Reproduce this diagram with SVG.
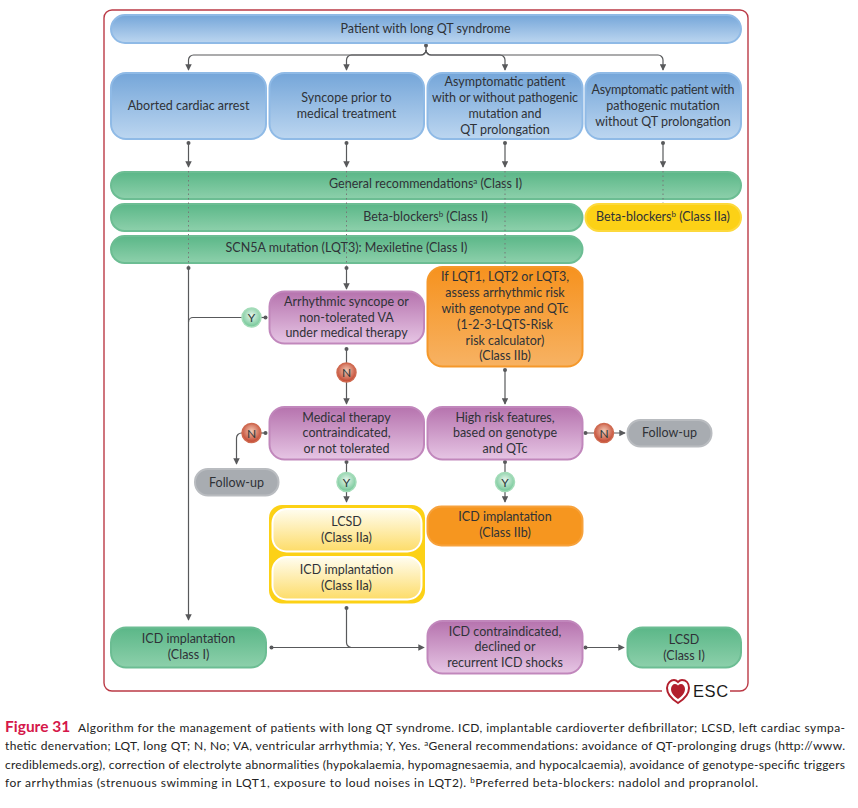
<svg xmlns="http://www.w3.org/2000/svg" width="858" height="808" viewBox="0 0 858 808">
<style>
text{font-family:"Lato","Liberation Sans",sans-serif;font-size:12.5px;fill:#2f3237;text-anchor:middle}
.cap{font-size:12px;text-anchor:start;fill:#222}
.fig{font-size:15.500px;font-weight:700;fill:#d5174a;text-anchor:start}
.sup{font-size:8px}
.blue{fill:url(#gb);stroke:#8fbae6;stroke-width:2}
.green{fill:url(#gg);stroke:#6cbd93;stroke-width:2}
.purple{fill:url(#gp);stroke:#c187bc;stroke-width:2}
.orange{fill:url(#go);stroke:#f5982a;stroke-width:2}
.orange2{fill:#f6961f;stroke:#f7a23c;stroke-width:2}
.yellow{fill:#fcd116}
.inner{fill:url(#gy);stroke:#fff;stroke-width:2}
.gray{fill:#a8acb1;stroke:#b9bcc0;stroke-width:2}
.y{fill:url(#cy);stroke:#a3dcb8;stroke-width:1.5}
.n{fill:url(#cn);stroke:#cf6a50;stroke-width:1.5}
.ln{fill:none;stroke:#58595b;stroke-width:1.2}
.dot{fill:none;stroke:#777;stroke-width:1;stroke-dasharray:1.500 3}
.d{fill:#58595b}
.bd{font-size:12px;fill:#2a3a3a}
</style>
<defs>
<linearGradient id="gb" x1="0" y1="0" x2="0" y2="1"><stop offset="0" stop-color="#75a6d9"/><stop offset="1" stop-color="#bcd6f0"/></linearGradient>
<linearGradient id="gg" x1="0" y1="0" x2="0" y2="1"><stop offset="0" stop-color="#5bb788"/><stop offset="1" stop-color="#8dd0ab"/></linearGradient>
<linearGradient id="gp" x1="0" y1="0" x2="0" y2="1"><stop offset="0" stop-color="#b673ae"/><stop offset="1" stop-color="#e6c5e4"/></linearGradient>
<linearGradient id="go" x1="0" y1="0" x2="0" y2="1"><stop offset="0" stop-color="#f6921e"/><stop offset="1" stop-color="#f7b263"/></linearGradient>
<linearGradient id="gy" x1="0" y1="0" x2="0" y2="1"><stop offset="0" stop-color="#fffdf0"/><stop offset="1" stop-color="#fddc68"/></linearGradient>
<radialGradient id="cy" cx=".5" cy=".4" r=".6"><stop offset="0" stop-color="#e8f6ec"/><stop offset="1" stop-color="#6ec594"/></radialGradient>
<radialGradient id="cn" cx=".5" cy=".4" r=".6"><stop offset="0" stop-color="#f3c9b4"/><stop offset="1" stop-color="#c0412b"/></radialGradient>
<marker id="a" viewBox="0 0 8 8" refX="7" refY="4" markerWidth="6.500" markerHeight="6.500" markerUnits="userSpaceOnUse" orient="auto"><path d="M0 0L8 4L0 8Z" fill="#58595b"/></marker>
</defs>

<path id="frame" d="M662 691H112a8 8 0 0 1-8-8V18a8 8 0 0 1 8-8H740a8 8 0 0 1 8 8V683a8 8 0 0 1-8 8h-10" fill="none" stroke="#bb3a46" stroke-width="1.400"/>

<g id="connectors">
<path class="ln" marker-end="url(#a)" d="M426 45V50a5 5 0 0 1-5 5H193.500a5 5 0 0 0-5 5V70"/>
<path class="ln" marker-end="url(#a)" d="M426 50a5 5 0 0 1-5 5H351.500a5 5 0 0 0-5 5V70"/>
<path class="ln" marker-end="url(#a)" d="M426 50a5 5 0 0 0 5 5H500a5 5 0 0 1 5 5V70"/>
<path class="ln" marker-end="url(#a)" d="M426 50a5 5 0 0 0 5 5H658a5 5 0 0 1 5 5V70"/>
<path class="ln" marker-end="url(#a)" d="M188.500 143V167"/>
<path class="ln" marker-end="url(#a)" d="M346.500 143V167"/>
<path class="ln" marker-end="url(#a)" d="M505 143V167"/>
<path class="ln" marker-end="url(#a)" d="M663 143V167"/>
<path class="ln" marker-end="url(#a)" d="M188.500 268V620"/>
<path class="ln" d="M188.500 322a4.500 4.500 0 0 1 4.500-4.500H242"/>
<path class="ln" d="M265.500 317.500H261"/>
<path class="ln" marker-end="url(#a)" d="M346.500 268V289"/>
<path class="ln" marker-end="url(#a)" d="M346.500 349V404"/>
<path class="ln" d="M265.500 433H261"/>
<path class="ln" marker-end="url(#a)" d="M243 433H241.500a5 5 0 0 0-5 5V464"/>
<path class="ln" marker-end="url(#a)" d="M346.500 462V502"/>
<path class="ln" marker-end="url(#a)" d="M505 370V404"/>
<path class="ln" marker-end="url(#a)" d="M505 462V502"/>
<path class="ln" marker-end="url(#a)" d="M585 433H625"/>
<path class="ln" marker-end="url(#a)" d="M271.500 647.500H424"/>
<path class="ln" d="M346.500 608V642.500a5 5 0 0 0 5 5H370"/>
<path class="ln" marker-end="url(#a)" d="M585 647.500H624"/>
<g class="d">
<circle cx="426" cy="45.500" r="2"/><circle cx="188.500" cy="143" r="2"/><circle cx="346.500" cy="143" r="2"/><circle cx="505" cy="143" r="2"/><circle cx="663" cy="143" r="2"/>
<circle cx="188.500" cy="268" r="2"/><circle cx="346.500" cy="268" r="2"/><circle cx="265.500" cy="317.500" r="2"/><circle cx="346.500" cy="349" r="2"/><circle cx="265.500" cy="433" r="2"/><circle cx="346.500" cy="462" r="2"/><circle cx="505" cy="370" r="2"/><circle cx="505" cy="462" r="2"/><circle cx="585.500" cy="433" r="2"/><circle cx="346.500" cy="608" r="2"/><circle cx="271.500" cy="647.500" r="2"/><circle cx="585.500" cy="647.500" r="2"/>
</g>
</g>

<g id="n-top"><rect class="blue" x="111" y="15" width="630" height="28" rx="14"/><text x="425.500" y="33">Patient with long QT syndrome</text></g>
<g id="n-arrest"><rect class="blue" x="111" y="73" width="155" height="66" rx="15"/><text x="188.500" y="110">Aborted cardiac arrest</text></g>
<g id="n-syncope"><rect class="blue" x="269.500" y="73" width="154.500" height="66" rx="15"/><text x="346.500" y="102">Syncope prior to</text><text x="346.500" y="118">medical treatment</text></g>
<g id="n-asym1"><rect class="blue" x="427.500" y="73" width="155" height="66" rx="15"/><text x="505" y="86">Asymptomatic patient</text><text x="505" y="102" textLength="146" lengthAdjust="spacing">with or without pathogenic</text><text x="505" y="118">mutation and</text><text x="505" y="134">QT prolongation</text></g>
<g id="n-asym2"><rect class="blue" x="585.500" y="73" width="155.500" height="66" rx="15"/><text x="663" y="94" textLength="143" lengthAdjust="spacing">Asymptomatic patient with</text><text x="663" y="110">pathogenic mutation</text><text x="663" y="126">without QT prolongation</text></g>

<g id="n-general"><rect class="green" x="111" y="172" width="630" height="27" rx="13.500"/><text x="425.500" y="188">General recommendations<tspan class="sup" dy="-4">a</tspan><tspan dy="4"> (Class I)</tspan></text></g>
<g id="n-beta"><rect class="green" x="111" y="204" width="471.500" height="27" rx="13.500"/><text x="425.500" y="221">Beta-blockers<tspan class="sup" dy="-4">b</tspan><tspan dy="4"> (Class I)</tspan></text></g>
<g id="n-beta2"><rect x="585.500" y="204" width="155.500" height="27" rx="13.500" fill="#fcd116" stroke="#fdd93c" stroke-width="2"/><text x="663" y="221">Beta-blockers<tspan class="sup" dy="-4">b</tspan><tspan dy="4"> (Class IIa)</tspan></text></g>
<g id="n-scn5a"><rect class="green" x="111" y="236" width="471.500" height="27" rx="13.500"/><text x="346.500" y="252">SCN5A mutation (LQT3): Mexiletine (Class I)</text></g>

<g id="n-arrhythmic"><rect class="purple" x="269.500" y="291.500" width="154.500" height="52" rx="15"/><text x="346.500" y="306">Arrhythmic syncope or</text><text x="346.500" y="322">non-tolerated VA</text><text x="346.500" y="337">under medical therapy</text></g>
<g id="n-lqt"><rect class="orange" x="427.500" y="267" width="155" height="99.500" rx="15"/><text x="505" y="281">If LQT1, LQT2 or LQT3,</text><text x="505" y="297">assess arrhythmic risk</text><text x="505" y="313">with genotype and QTc</text><text x="505" y="329">(1-2-3-LQTS-Risk</text><text x="505" y="345">risk calculator)</text><text x="505" y="360">(Class IIb)</text></g>

<path id="connectors-dotted" class="dot" d="M188.500 171V266M346.500 171V266M505 171V266M663 171V203"/>

<g id="n-medical"><rect class="purple" x="269.500" y="407" width="154.500" height="52.500" rx="15"/><text x="346.500" y="422">Medical therapy</text><text x="346.500" y="437">contraindicated,</text><text x="346.500" y="453">or not tolerated</text></g>
<g id="n-high"><rect class="purple" x="427.500" y="407" width="155" height="52.500" rx="15"/><text x="505" y="422">High risk features,</text><text x="505" y="437">based on genotype</text><text x="505" y="453">and QTc</text></g>
<g id="n-fu1"><rect class="gray" x="195" y="469" width="83.500" height="26.500" rx="13"/><text x="236.500" y="487">Follow-up</text></g>
<g id="n-fu2"><rect class="gray" x="627.500" y="420" width="84" height="26.500" rx="13"/><text x="669.500" y="437">Follow-up</text></g>

<g id="n-y1"><circle class="y" cx="251.500" cy="317.500" r="9.500"/><text class="bd" x="251.500" y="322">Y</text></g>
<g id="n-n1"><circle class="n" cx="346.500" cy="372.500" r="9.500"/><text class="bd" x="346.500" y="377">N</text></g>
<g id="n-n2"><circle class="n" cx="251.500" cy="433" r="9.500"/><text class="bd" x="251.500" y="437.500">N</text></g>
<g id="n-y2"><circle class="y" cx="346.500" cy="482" r="9.500"/><text class="bd" x="346.500" y="486.500">Y</text></g>
<g id="n-y3"><circle class="y" cx="505" cy="482" r="9.500"/><text class="bd" x="505" y="486.500">Y</text></g>
<g id="n-n3"><circle class="n" cx="604" cy="433" r="9.500"/><text class="bd" x="604" y="437.500">N</text></g>

<g id="n-yellowbox"><rect class="yellow" x="269" y="505" width="156" height="98.500" rx="13"/>
<rect class="inner" x="272.500" y="509" width="149" height="42.500" rx="14"/><text x="346.500" y="526">LCSD</text><text x="346.500" y="542">(Class IIa)</text>
<rect class="inner" x="272.500" y="557" width="149" height="42.500" rx="14"/><text x="346.500" y="574">ICD implantation</text><text x="346.500" y="590">(Class IIa)</text></g>
<g id="n-icd2b"><rect class="orange2" x="427.500" y="506.500" width="155" height="39" rx="14"/><text x="505" y="521">ICD implantation</text><text x="505" y="537">(Class IIb)</text></g>
<g id="n-icd1"><rect class="green" x="111" y="627.500" width="155" height="40" rx="15"/><text x="188.500" y="643">ICD implantation</text><text x="188.500" y="659">(Class I)</text></g>
<g id="n-contra"><rect class="purple" x="427.500" y="621" width="155" height="52.500" rx="15"/><text x="505" y="636">ICD contraindicated,</text><text x="505" y="651">declined or</text><text x="505" y="667">recurrent ICD shocks</text></g>
<g id="n-lcsd"><rect class="green" x="627.500" y="627.500" width="113.500" height="40" rx="15"/><text x="684" y="644">LCSD</text><text x="684" y="660">(Class I)</text></g>

<g id="esc-logo">
<path d="M678 703C670 698 667 693 667 688C667 683 671 680 674 680C676 680 677 681 678 682C679 681 680 680 682 680C686 680 689 683 689 688C689 693 686 698 678 703Z" fill="#fff" stroke="#b21f2d" stroke-width="2"/>
<path d="M678 699C673 696 671 692 671 689C671 686 673 684 675 684C677 684 678 685 678 686C678 685 679 684 681 684C683 684 685 686 685 689C685 692 683 696 678 699Z" fill="#b21f2d"/>
<text x="693" y="697" style="font-family:'Liberation Sans',sans-serif;font-size:16.500px;text-anchor:start;fill:#1a1a1a;letter-spacing:.6px">ESC</text>
</g>

<g id="caption">
<text class="fig" x="5" y="732">Figure 31</text>
<text class="cap" x="78" y="732" textLength="767" lengthAdjust="spacing">Algorithm for the management of patients with long QT syndrome. ICD, implantable cardioverter defibrillator; LCSD, left cardiac sympa-</text>
<text class="cap" x="5" y="750" textLength="840" lengthAdjust="spacing">thetic denervation; LQT, long QT; N, No; VA, ventricular arrhythmia; Y, Yes. <tspan class="sup" dy="-4">a</tspan><tspan dy="4">General recommendations: avoidance of QT-prolonging drugs (http://www.</tspan></text>
<text class="cap" x="5" y="769" textLength="840" lengthAdjust="spacing">crediblemeds.org), correction of electrolyte abnormalities (hypokalaemia, hypomagnesaemia, and hypocalcaemia), avoidance of genotype-specific triggers</text>
<text class="cap" x="5" y="787" textLength="753" lengthAdjust="spacing">for arrhythmias (strenuous swimming in LQT1, exposure to loud noises in LQT2). <tspan class="sup" dy="-4">b</tspan><tspan dy="4">Preferred beta-blockers: nadolol and propranolol.</tspan></text>
</g>
</svg>
